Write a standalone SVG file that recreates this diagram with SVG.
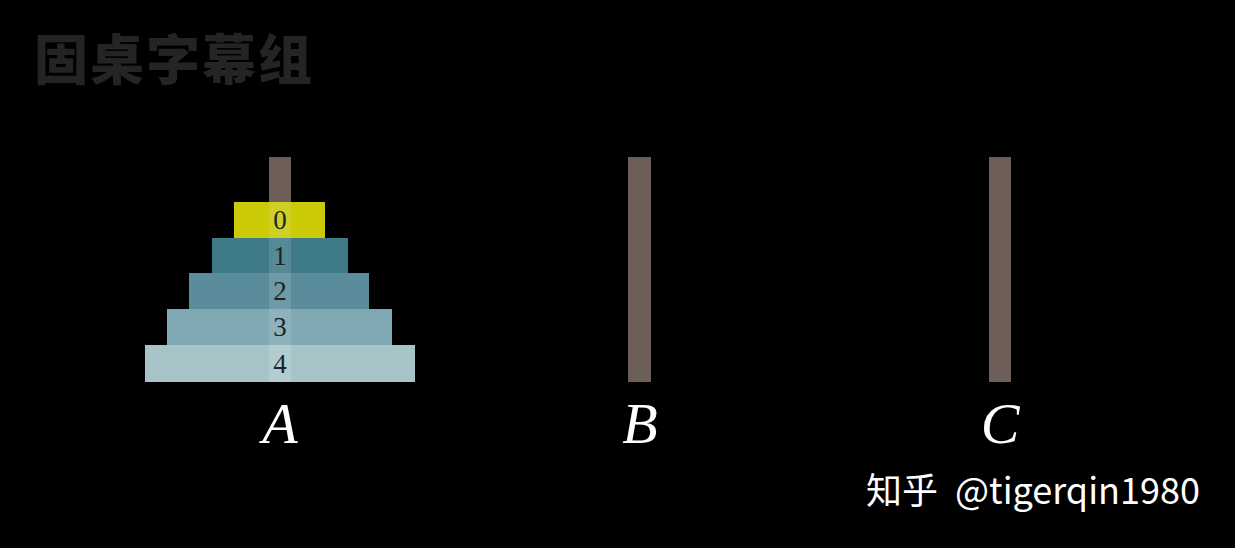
<svg xmlns="http://www.w3.org/2000/svg" width="1235" height="548" viewBox="0 0 1235 548">
<style>
.peg{fill:#6d5f58}
.num{font-family:"Liberation Serif","DejaVu Serif",serif;font-size:27px;fill:#1e2426;text-anchor:middle}
.lbl{font-family:"Liberation Serif","DejaVu Serif",serif;font-style:italic;font-size:58px;fill:#ffffff;text-anchor:middle}
.wm{font-family:"Noto Sans CJK SC","Noto Sans",sans-serif;font-size:36px;fill:#ffffff}
</style>
<rect width="1235" height="548" fill="#000000"/>
<text x="34" y="80" font-family="'Noto Sans CJK SC',sans-serif" font-weight="900" font-size="54" fill="#242424" letter-spacing="2">固桌字幕组</text>
<g id="pegA"><rect class="peg" x="269" y="157" width="22" height="225"/></g>
<g id="pegB"><rect class="peg" x="628" y="157" width="23" height="225"/></g>
<g id="pegC"><rect class="peg" x="989" y="157" width="22" height="225"/></g>
<g id="disk0"><rect x="234" y="202" width="91" height="36" fill="#caca06"/><rect x="269" y="202" width="22" height="36" fill="#ffffff" opacity="0.12"/><text class="num" x="280" y="229">0</text></g>
<g id="disk1"><rect x="212" y="238" width="136" height="35" fill="#3f7a89"/><rect x="269" y="238" width="22" height="35" fill="#ffffff" opacity="0.12"/><text class="num" x="280" y="265">1</text></g>
<g id="disk2"><rect x="189" y="273" width="180" height="36" fill="#5a8c9b"/><rect x="269" y="273" width="22" height="36" fill="#ffffff" opacity="0.12"/><text class="num" x="280" y="300">2</text></g>
<g id="disk3"><rect x="167" y="309" width="225" height="36" fill="#7fa8b3"/><rect x="269" y="309" width="22" height="36" fill="#ffffff" opacity="0.12"/><text class="num" x="280" y="336">3</text></g>
<g id="disk4"><rect x="145" y="345" width="270" height="37" fill="#a6c3c8"/><rect x="269" y="345" width="22" height="37" fill="#ffffff" opacity="0.15"/><text class="num" x="280" y="373">4</text></g>
<g id="labelA"><text class="lbl" x="280" y="443">A</text></g>
<g id="labelB"><text class="lbl" x="640" y="443">B</text></g>
<g id="labelC"><text class="lbl" x="1000" y="443">C</text></g>
<g id="connectors"></g>
<text class="wm" x="866" y="504">知乎</text>
<text class="wm" x="955" y="504">@tigerqin1980</text>
</svg>
